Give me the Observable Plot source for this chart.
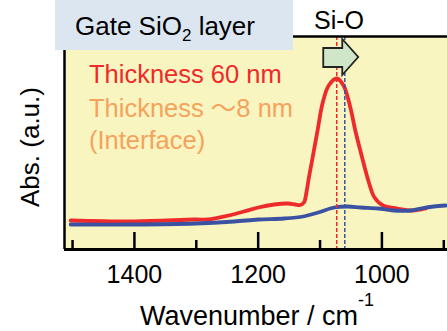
<!DOCTYPE html>
<html><head><meta charset="utf-8">
<script src="https://cdn.jsdelivr.net/npm/d3@7"></script>
<script src="https://cdn.jsdelivr.net/npm/@observablehq/plot@0.6"></script>
<style>
body{margin:0;background:#fff;}
#wrap{width:447px;height:331px;overflow:hidden;}
</style></head><body>
<div id="wrap"></div>
<script>
// Wavenumber (cm^-1) and absorbance (a.u.)
const redWave = [1503,1400,1302,1281,1248,1223,1200,1174,1152,1140,1132,1126,1122,1118,1112,1104,1096,1086,1073,1062,1051,1043,1032,1022,1012,998,975,953,937,929];
const redAbs  = [29,28,30,30,34,38,42,45,46,45,44.5,47,57,72,92,119,146,164,171,164,142,119,92,69,52,44,41,39,40,41];
const blueWave = [1503,1400,1302,1239,1200,1158,1127,1103,1077,1055,1034,1006,981,953,937,916,897];
const blueAbs  = [25,25,26,28,30,31,33,37,42,43,42,41,39,39,41,43,44];
const peakLines = [1073, 1060];           // red peak, blue peak
const majorTicks = [1400, 1200, 1000];
const minorTicks = [1500, 1300, 1100, 900];
const xDomain = [1513, 894];
const yDomain = [0, 213];
const legendLines = ["Thickness 60 nm", "Thickness ～8 nm", "(Interface)"];
const titleText = ["Gate SiO", "2", " layer"];
const peakLabel = "Si-O";
const xLabel = ["Wavenumber / cm", "-1"];
const yLabel = "Abs. (a.u.)";

const red = "#ef2a2a", blue = "#3b52a3", orange = "#f5a35c";
const font = "'Liberation Sans', Arial, 'Noto Sans CJK JP', sans-serif";

const redData = redWave.map((w,i)=>({w, a: redAbs[i]}));
const blueData = blueWave.map((w,i)=>({w, a: blueAbs[i]}));
const plotH = 331 - 36 - 82;

const chart = Plot.plot({
  width: 447, height: 331,
  marginLeft: 64, marginRight: 0, marginTop: 36, marginBottom: 82,
  style: {fontFamily: font, background: "#fff", color: "#000"},
  x: {domain: xDomain},
  y: {domain: yDomain},
  marks: [
    Plot.frame({fill: "#f8f5c0", stroke: null}),
    Plot.line(redData, {x: "w", y: "a", stroke: red, strokeWidth: 3.8, curve: "catmull-rom"}),
    Plot.line(blueData, {x: "w", y: "a", stroke: blue, strokeWidth: 3.8, curve: "catmull-rom"}),
    Plot.ruleX([peakLines[0]], {stroke: red, strokeWidth: 1.5, strokeDasharray: "4,2"}),
    Plot.ruleX([peakLines[1]], {stroke: blue, strokeWidth: 1.5, strokeDasharray: "4,2"}),
    Plot.tickX(majorTicks, {x: d=>d, insetTop: plotH - 17, stroke: "#000", strokeWidth: 2.5}),
    Plot.tickX(minorTicks, {x: d=>d, insetTop: plotH - 9, stroke: "#000", strokeWidth: 2.5}),
    Plot.ruleX([xDomain[0]], {stroke: "#000", strokeWidth: 2.5}),
    Plot.ruleY([yDomain[0]], {stroke: "#000", strokeWidth: 3}),
    Plot.ruleY([yDomain[1]], {stroke: "#000", strokeWidth: 2.5}),
    Plot.axisX({ticks: majorTicks, tickSize: 0, tickPadding: 16, fontSize: 25, tickFormat: d=>String(d), label: null}),
    Plot.axisY({ticks: [], label: null})
  ]
});
document.getElementById("wrap").appendChild(chart);

const svg = d3.select(chart);
const sx = chart.scale("x");
const x0 = sx.apply(peakLines[0]);

// block arrow
svg.append("path")
  .attr("d", `M${x0-13},48 L${x0+6},48 L${x0+6},39 L${x0+22},57 L${x0+6},75 L${x0+6},67 L${x0-13},67 Z`)
  .attr("fill", "#cfe6c8").attr("stroke", "#222").attr("stroke-width", 1.8).attr("stroke-linejoin","miter");

// title box
svg.append("rect").attr("x", 55).attr("y", 0).attr("width", 238).attr("height", 50).attr("fill", "#dce6f1");
const t = svg.append("text").attr("x", 75).attr("y", 35).attr("text-anchor", "start").attr("font-size", 26).attr("font-family", font).attr("fill", "#000");
t.append("tspan").text(titleText[0]);
t.append("tspan").attr("font-size", 17).attr("dy", 6).text(titleText[1]);
t.append("tspan").attr("dy", -6).text(titleText[2]);

svg.append("text").attr("x", 339).attr("y", 29).attr("text-anchor", "middle").attr("font-size", 25)
  .attr("font-family", font).attr("fill", "#000").text(peakLabel);

// legend-like labels
const lc = [red, orange, orange], ly = [83, 117, 149];
legendLines.forEach((s,i)=>{
  svg.append("text").attr("x", 89).attr("y", ly[i]).attr("text-anchor", "start").attr("font-size", 25.5).attr("font-family", font)
    .attr("fill", lc[i]).text(s);
});

// axis labels
const xl = svg.append("text").attr("x", 140).attr("y", 325).attr("text-anchor", "start").attr("font-size", 27).attr("font-family", font).attr("fill", "#000");
xl.append("tspan").text(xLabel[0]);
xl.append("tspan").attr("font-size", 18).attr("dy", -19).text(xLabel[1]);

svg.append("text").attr("transform", "translate(39,147) rotate(-90)").attr("text-anchor", "middle")
  .attr("font-size", 26).attr("font-family", font).attr("fill", "#000").text(yLabel);
</script>
</body></html>
